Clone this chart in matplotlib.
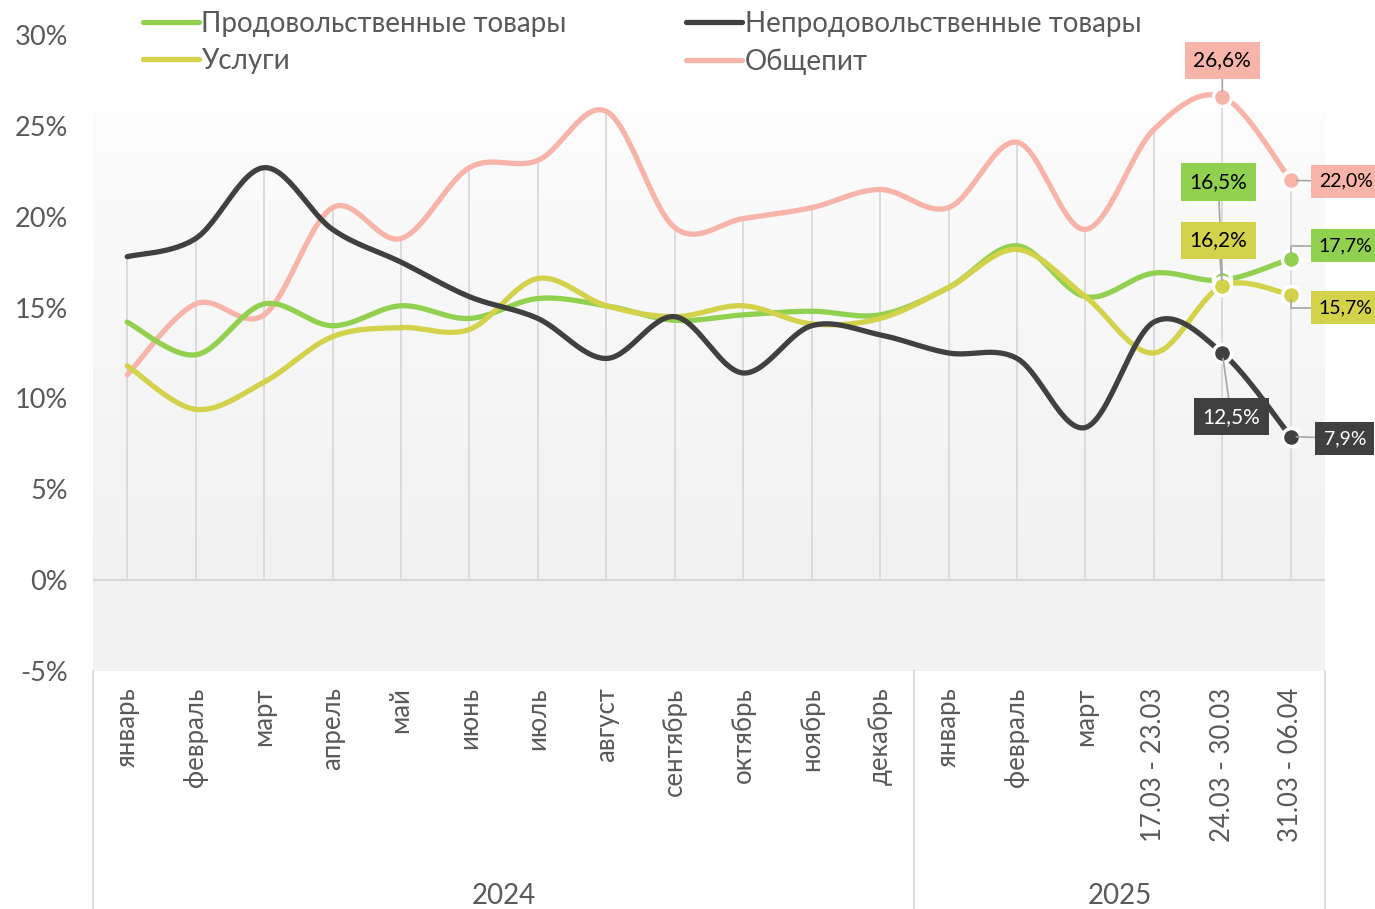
import numpy as np
import matplotlib
matplotlib.use("Agg")
import matplotlib.pyplot as plt
from matplotlib.colors import LinearSegmentedColormap

plt.rcParams['font.family'] = ['Lato', 'DejaVu Sans']

# категории по оси X
months = ["январь", "февраль", "март", "апрель", "май", "июнь", "июль", "август",
          "сентябрь", "октябрь", "ноябрь", "декабрь",
          "январь", "февраль", "март", "17.03 - 23.03", "24.03 - 30.03", "31.03 - 06.04"]
years = ["2024", "2025"]
year_sizes = [12, 6]

# значения рядов, %
food = [14.2, 12.4, 15.2, 14.0, 15.1, 14.4, 15.5, 15.1, 14.3, 14.6, 14.8, 14.6,
        16.1, 18.4, 15.6, 16.9, 16.5, 17.7]
nonfood = [17.8, 18.8, 22.7, 19.3, 17.5, 15.6, 14.4, 12.2, 14.5, 11.4, 14.0, 13.5,
           12.5, 12.2, 8.4, 14.2, 12.5, 7.9]
services = [11.8, 9.4, 10.9, 13.4, 13.9, 13.8, 16.6, 15.1, 14.5, 15.1, 14.1, 14.4,
            16.1, 18.2, 15.6, 12.5, 16.2, 15.7]
catering = [11.3, 15.2, 14.6, 20.5, 18.8, 22.7, 23.1, 25.8, 19.4, 19.9, 20.5, 21.5,
            20.5, 24.1, 19.3, 24.8, 26.6, 22.0]

names = ["Продовольственные товары", "Непродовольственные товары", "Услуги", "Общепит"]
colors = ["#92d050", "#404040", "#d4d24a", "#f8b4a8"]

TXT = "#595959"


def smooth(xs, ys, steps=30):
    # сглаженная линия как в Excel (кривые Безье через точки)
    pts = np.column_stack([xs, ys]).astype(float)
    ext = np.vstack([pts[0], pts, pts[-1]])
    out = []
    t = np.linspace(0, 1, steps)[:, None]
    for i in range(len(pts) - 1):
        p0, p1, p2, p3 = ext[i], ext[i + 1], ext[i + 2], ext[i + 3]
        c1 = p1 + (p2 - p0) / 6
        c2 = p2 - (p3 - p1) / 6
        seg = (1 - t) ** 3 * p1 + 3 * (1 - t) ** 2 * t * c1 + 3 * (1 - t) * t ** 2 * c2 + t ** 3 * p2
        out.append(seg if i == 0 else seg[1:])
    return np.vstack(out)


W, H = 1375, 909
fig = plt.figure(figsize=(W / 100, H / 100), dpi=100)
ax = fig.add_axes([93 / W, (H - 671) / H, 1232 / W, (671 - 35) / H])
ax.set_xlim(-0.5, 17.5)
ax.set_ylim(-5, 30)
for s in ax.spines.values():
    s.set_visible(False)

x = np.arange(len(months))

# фон: градиент над нулём и серая полоса ниже
cmap = LinearSegmentedColormap.from_list("bg", ["#fcfcfc", "#f1f1f1"])
ax.imshow(np.linspace(0, 1, 256)[:, None], extent=[-0.5, 17.5, 0, 25.7], aspect="auto",
          cmap=cmap, zorder=0)
ax.axhspan(-5, 0, color="#f2f2f2", zorder=0, lw=0)
ax.axhline(0, color="#d9d9d9", lw=1.6, zorder=1)

# вертикальные линии от нуля до максимума
tops = np.max([food, nonfood, services, catering], axis=0)
ax.vlines(x, 0, tops, color="#d9d9d9", lw=1.3, zorder=1)

series = [food, nonfood, services, catering]
for k in [3, 0, 2, 1]:
    ys = series[k]
    p = smooth(x, ys)
    ax.plot(p[:, 0], p[:, 1], color=colors[k], lw=3.8, solid_capstyle="round", zorder=3,
            label=names[k])
    ax.plot(x[-2:], ys[-2:], "o", ms=13, mfc=colors[k], mec="white", mew=2.5, zorder=5)

# ось Y
ax.set_yticks(np.arange(-5, 31, 5))
ax.set_yticklabels([f"{v}%" for v in range(-5, 31, 5)], fontsize=19.5, color=TXT)
ax.tick_params(axis="y", length=0, pad=18)
ax.set_xticks([])

# подписи категорий
for i, m in enumerate(months):
    ax.text(i, -5.9, m, rotation=90, ha="center", va="top", fontsize=18.5, color=TXT)
trans = ax.get_xaxis_transform()
bounds = [-0.5, 11.5, 17.5]
for b in bounds:
    ax.plot([b, b], [0, -0.38], transform=trans, color="#d9d9d9", lw=1.3, clip_on=False)
start = 0
for yr, n in zip(years, year_sizes):
    ax.text(start + (n - 1) / 2, -17.4, yr, ha="center", va="center", fontsize=20, color=TXT)
    start += n

# подписи значений
def label(k, i, tx, ty, ha="center", conn="arc3", tc="black", fs=15):
    v = series[k][i]
    ax.annotate(f"{v:.1f}%".replace(".", ","), xy=(i, v), xytext=(tx, ty),
                ha=ha, va="center", fontsize=fs, color=tc, zorder=6,
                bbox=dict(boxstyle="square,pad=0.42", fc=colors[k], ec="none"),
                arrowprops=dict(arrowstyle="-", color="#a6a6a6", lw=1.2,
                                shrinkA=0, shrinkB=4, connectionstyle=conn))


label(3, 16, 16.0, 28.6)
label(0, 16, 15.94, 21.9)
label(2, 16, 15.94, 18.7)
label(1, 16, 16.13, 9.0, tc="white")
label(3, 17, 17.41, 21.95, ha="left", fs=14)
label(0, 17, 17.41, 18.4, ha="left", conn="angle,angleA=0,angleB=90,rad=0", fs=14)
label(2, 17, 17.41, 15.0, ha="left", conn="angle,angleA=0,angleB=90,rad=0", fs=14)
label(1, 17, 17.48, 7.8, ha="left", tc="white", fs=14)

# легенда
handles, labels = ax.get_legend_handles_labels()
hmap = dict(zip(labels, handles))
leg_order = [names[0], names[2], names[1], names[3]]
leg = fig.legend([hmap[n] for n in leg_order], leg_order, loc="upper left",
                 bbox_to_anchor=(132 / W, 1.0), ncol=2, frameon=False, fontsize=20,
                 handlelength=2.0, handletextpad=0.1, columnspacing=4.3, labelspacing=0.4,
                 borderaxespad=0.0)
for t in leg.get_texts():
    t.set_color(TXT)

fig.savefig("out.png", dpi=100)
